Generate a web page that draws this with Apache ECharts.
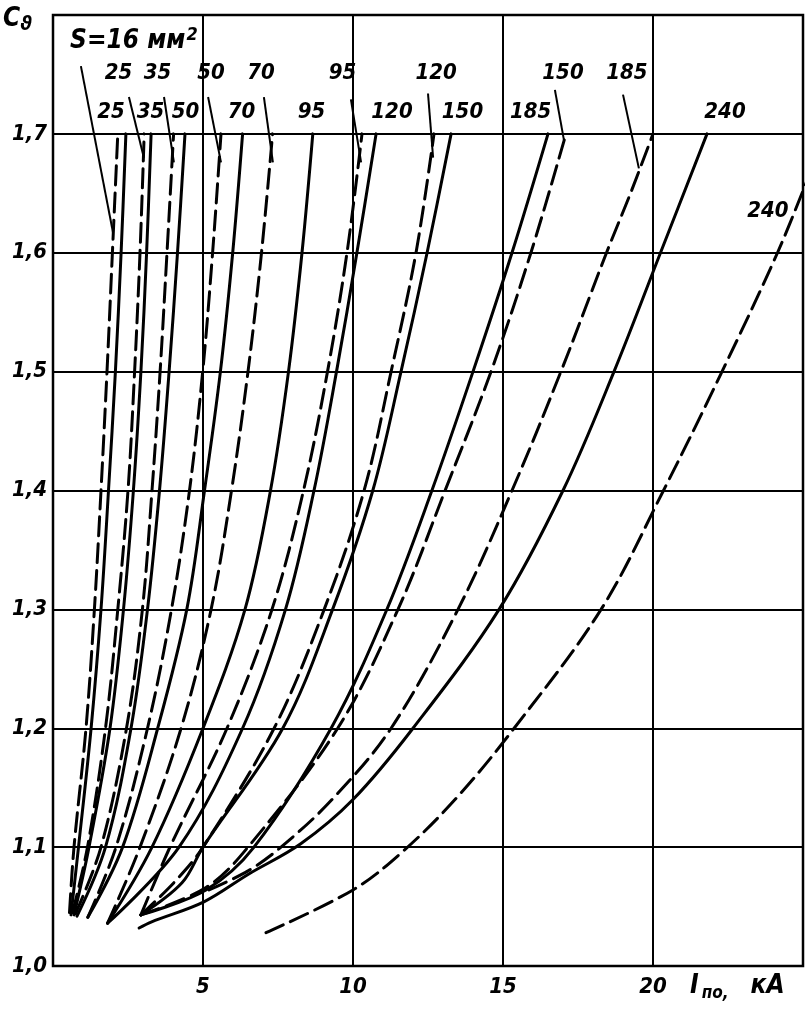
<!DOCTYPE html>
<html><head><meta charset="utf-8">
<script src="https://cdn.jsdelivr.net/npm/echarts@6/dist/echarts.min.js"></script>
<style>html,body{margin:0;padding:0;background:#fff}#c{width:810px;height:1015px}</style>
</head><body><div id="c"></div>
<script>
// ---- tick labels ----
const yTickLabels = ['1,0','1,1','1,2','1,3','1,4','1,5','1,6','1,7'];
const xTickLabels = ['5','10','15','20'];

// ---- curves: [I, kA ; C] ----
const dashed16 = [[0.55,1.045],[0.7,1.1],[1.1,1.2],[1.38,1.3],[1.6,1.4],[1.8,1.5],[1.98,1.6],[2.16,1.7]];
const solid25  = [[0.6,1.043],[0.85,1.1],[1.27,1.2],[1.6,1.3],[1.85,1.4],[2.08,1.5],[2.27,1.6],[2.43,1.7]];
const dashed25 = [[0.65,1.045],[1.15,1.1],[1.75,1.2],[2.16,1.3],[2.5,1.4],[2.72,1.5],[2.9,1.6],[3.04,1.7]];
const solid35  = [[0.7,1.043],[1.2,1.1],[1.9,1.2],[2.35,1.3],[2.68,1.4],[2.93,1.5],[3.12,1.6],[3.27,1.7]];
const dashed35 = [[0.75,1.044],[1.6,1.1],[2.45,1.2],[2.98,1.3],[3.3,1.4],[3.57,1.5],[3.8,1.6],[4.02,1.7]];
const solid50  = [[0.8,1.042],[1.75,1.1],[2.6,1.2],[3.15,1.3],[3.55,1.4],[3.87,1.5],[4.15,1.6],[4.4,1.7]];
const dashed50 = [[1.16,1.041],[2.1,1.1],[3.15,1.2],[3.95,1.3],[4.55,1.4],[4.99,1.5],[5.32,1.6],[5.6,1.7]];
const solid70  = [[1.16,1.041],[2.32,1.1],[3.49,1.2],[4.46,1.3],[5.05,1.4],[5.58,1.5],[5.99,1.6],[6.32,1.7]];
const dashed70 = [[1.82,1.036],[2.9,1.1],[4.27,1.2],[5.27,1.3],[5.95,1.4],[6.5,1.5],[6.95,1.6],[7.32,1.7]];
const solid95  = [[1.82,1.036],[3.3,1.1],[5.0,1.2],[6.4,1.3],[7.25,1.4],[7.85,1.5],[8.3,1.6],[8.66,1.7]];
const dashed95 = [[2.93,1.043],[3.9,1.1],[5.8,1.2],[7.3,1.3],[8.35,1.4],[9.15,1.5],[9.8,1.6],[10.3,1.7]];
const solid120 = [[1.82,1.036],[4.2,1.1],[6.32,1.2],[7.75,1.3],[8.7,1.4],[9.45,1.5],[10.13,1.6],[10.77,1.7]];
const dashed120= [[2.93,1.043],[4.1,1.072],[5.0,1.1],[7.37,1.2],[9.04,1.3],[10.37,1.4],[11.27,1.5],[12.1,1.6],[12.7,1.7]];
const solid150 = [[2.93,1.043],[4.3,1.07],[5.0,1.1],[7.66,1.2],[9.32,1.3],[10.66,1.4],[11.6,1.5],[12.47,1.6],[13.27,1.7]];
const dashed150= [[2.93,1.043],[5.1,1.066],[6.5,1.1],[9.49,1.2],[11.5,1.3],[13.07,1.4],[14.6,1.5],[15.93,1.6],[17.1,1.7]];
const solid185 = [[2.93,1.043],[5.1,1.064],[6.7,1.1],[9.27,1.2],[11.13,1.3],[12.63,1.4],[14.0,1.5],[15.3,1.6],[16.5,1.7]];
const dashed185= [[5.2,1.064],[6.5,1.08],[7.6,1.1],[9.3,1.14],[11.27,1.2],[13.5,1.3],[15.3,1.4],[16.93,1.5],[18.45,1.6],[19.25,1.65],[20.0,1.7]];
const solid240 = [[2.87,1.032],[3.27,1.037],[5.03,1.054],[6.5,1.077],[8.27,1.103],[10.0,1.14],[12.0,1.2],[14.87,1.3],[17.0,1.4],[18.7,1.5],[20.25,1.6],[21.8,1.7]];
const dashed240= [[7.1,1.028],[10.0,1.064],[11.6,1.095],[13.4,1.14],[15.37,1.2],[18.27,1.3],[20.35,1.4],[22.3,1.5],[24.15,1.6],[25.2,1.665]];

const solidCurves  = [solid25, solid35, solid50, solid70, solid95, solid120, solid150, solid185, solid240];
const dashedCurves = [dashed16, dashed25, dashed35, dashed50, dashed70, dashed95, dashed120, dashed150, dashed185, dashed240];

// ---- curve labels ----
const solidLabelText  = ['25','35','50','70','95','120','150','185','240'];
const dashedLabelText = ['S=16 мм','25','35','50','70','95','120','150','185','240'];
// label anchors (data units)
const solidLabelAt  = [[1.93,1.718],[3.25,1.718],[4.42,1.718],[6.28,1.718],[8.62,1.718],[11.3,1.718],[13.65,1.718],[15.92,1.718],[22.4,1.718]];
const dashedLabelAt = [[0.57,1.779],[2.18,1.751],[3.48,1.751],[5.27,1.751],[6.93,1.751],[9.65,1.751],[12.77,1.751],[17.0,1.751],[19.13,1.751],[23.83,1.635]];
// leader lines: label -> dashed curve
const leaders = [
  [[0.93,1.757],[2.0,1.617]],
  [[2.53,1.731],[3.03,1.68]],
  [[3.7,1.731],[4.03,1.676]],
  [[5.17,1.731],[5.6,1.676]],
  [[7.03,1.731],[7.33,1.676]],
  [[9.93,1.729],[10.27,1.676]],
  [[12.5,1.734],[12.67,1.68]],
  [[16.73,1.737],[17.03,1.695]],
  [[19.0,1.733],[19.53,1.671]]
];

const FONT = 'DejaVu Sans Condensed, DejaVu Sans, sans-serif';
const txt = {color:'#000', fontSize:22, fontStyle:'italic', fontWeight:'bold', fontFamily:FONT};

const series = [];
solidCurves.forEach(d => series.push({type:'line', data:d, smooth:0.35, showSymbol:false, symbol:'none',
  lineStyle:{color:'#000', width:3, type:'solid', cap:'round'}, silent:true, z:3}));
dashedCurves.forEach(d => series.push({type:'line', data:d, smooth:0.35, showSymbol:false, symbol:'none',
  lineStyle:{color:'#000', width:3, type:[19,8], cap:'round'}, silent:true, z:3}));
leaders.forEach(d => series.push({type:'line', data:d, showSymbol:false, symbol:'none',
  lineStyle:{color:'#000', width:2}, silent:true, z:4}));

const chart = echarts.init(document.getElementById('c'), null, {renderer:'canvas'});
chart.setOption({
  animation:false,
  backgroundColor:'#fff',
  grid:{left:53, right:7, top:15, bottom:49, show:true, borderColor:'#000', borderWidth:2.5},
  xAxis:[{
    type:'value', min:0, max:25, interval:5,
    axisLine:{show:false}, axisTick:{show:false},
    splitLine:{show:true, lineStyle:{color:'#000', width:2}},
    axisLabel:Object.assign({margin:10, formatter:v=>xTickLabels.indexOf(String(v))>=0?String(v):''}, txt)
  },{
    type:'value', position:'top', min:0, max:25, interval:5,
    axisLine:{show:false}, splitLine:{show:false}, axisLabel:{show:false},
    axisTick:{show:true, inside:true, length:8, lineStyle:{color:'#000', width:2}}
  }],
  yAxis:{
    type:'value', min:1.0, max:1.8, interval:0.1,
    axisLine:{show:false}, axisTick:{show:false},
    splitLine:{show:true, lineStyle:{color:'#000', width:2}},
    axisLabel:Object.assign({margin:6, formatter:v=>{const i=Math.round((v-1)*10);return yTickLabels[i]||'';}}, txt)
  },
  series: series
});

// labels placed through the chart's own coordinate system
const labelStyle = t => ({text:t, fill:'#000', font:'italic bold 22px ' + FONT, textAlign:'center', textVerticalAlign:'middle'});
const g = [];
solidLabelText.forEach((t,i)=>{const p=chart.convertToPixel({gridIndex:0}, solidLabelAt[i]); g.push({type:'text', x:p[0], y:p[1], z:10, style:labelStyle(t)});});
dashedLabelText.forEach((t,i)=>{
  const p=chart.convertToPixel({gridIndex:0}, dashedLabelAt[i]);
  if(i===0){
    g.push({type:'text', x:p[0], y:p[1]-14, z:10, style:{text:'{a|'+t+'}{s|2}', rich:{
      a:{fontSize:26, fontStyle:'italic', fontWeight:'bold', fontFamily:FONT, fill:'#000'},
      s:{fontSize:18, fontStyle:'italic', fontWeight:'bold', fontFamily:FONT, fill:'#000', padding:[0,0,12,1]}}}});
  } else g.push({type:'text', x:p[0], y:p[1], z:10, style:labelStyle(t)});
});
g.push({type:'text', left:3, top:6, style:{rich:{a:{fontSize:26, fontStyle:'italic', fontWeight:'bold', fontFamily:FONT, fill:'#000'}, b:{fontSize:20, fontStyle:'italic', fontWeight:'bold', fontFamily:FONT, fill:'#000', padding:[12,0,0,0]}}, text:'{a|C}{b|ϑ}'}});
g.push({type:'text', left:690, top:973, style:{rich:{a:{fontSize:26, fontStyle:'italic', fontWeight:'bold', fontFamily:FONT, fill:'#000'}, b:{fontSize:17, fontStyle:'italic', fontWeight:'bold', fontFamily:FONT, fill:'#000', padding:[16,0,0,3]}, c:{fontSize:26, fontStyle:'italic', fontWeight:'bold', fontFamily:FONT, fill:'#000', padding:[0,0,0,22]}}, text:'{a|I}{b|по,}{c|кА}'}});
chart.setOption({graphic:g});
</script></body></html>
